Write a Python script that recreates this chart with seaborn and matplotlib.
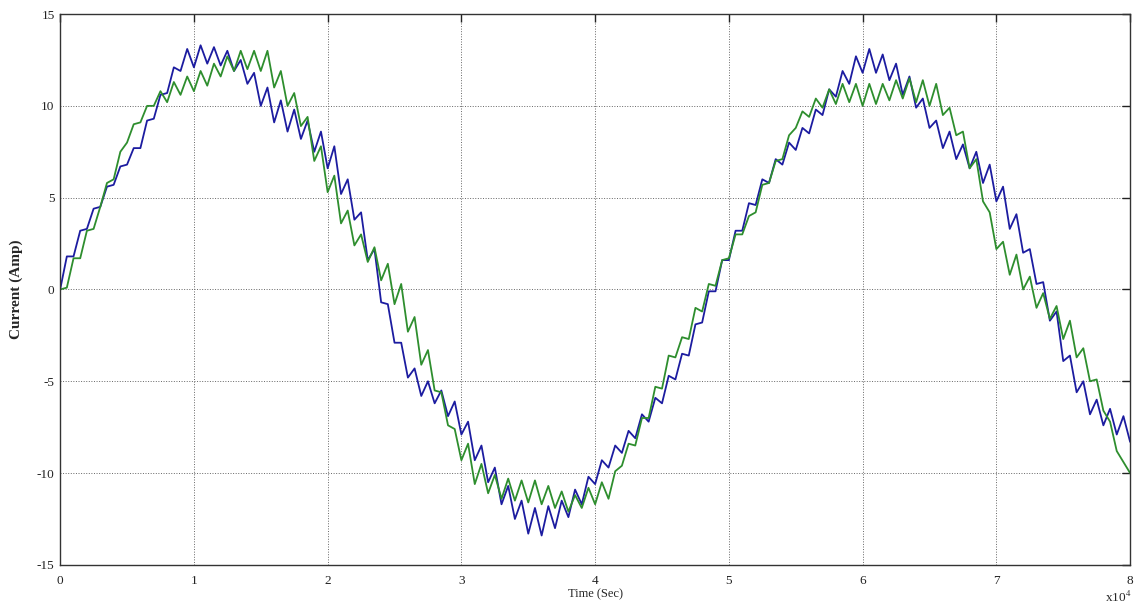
import numpy as np
import pandas as pd
import matplotlib
matplotlib.use("Agg")
import matplotlib.pyplot as plt
import seaborn as sns

# time axis in units of 1e4 s (sampling grid)
time_x1e4 = np.linspace(0, 8, 161)

blue_current = [
    0.0, 1.8, 1.8, 3.2, 3.3, 4.4, 4.5, 5.6, 5.7, 6.7,
    6.8, 7.7, 7.7, 9.2, 9.3, 10.6, 10.7, 12.1, 11.9, 13.1,
    12.1, 13.3, 12.3, 13.2, 12.2, 13.0, 11.9, 12.5, 11.2, 11.8,
    10.0, 11.0, 9.1, 10.3, 8.6, 9.8, 8.2, 9.2, 7.5, 8.6,
    6.6, 7.8, 5.2, 6.0, 3.8, 4.2, 1.6, 2.2, -0.7, -0.8,
    -2.9, -2.9, -4.8, -4.3, -5.8, -5.0, -6.2, -5.5, -6.9, -6.1,
    -7.9, -7.2, -9.3, -8.5, -10.5, -9.7, -11.7, -10.7, -12.5, -11.5,
    -13.3, -11.9, -13.4, -11.8, -13.0, -11.5, -12.4, -10.9, -11.7, -10.2,
    -10.6, -9.3, -9.7, -8.5, -8.9, -7.7, -8.1, -6.8, -7.2, -5.9,
    -6.2, -4.7, -4.9, -3.5, -3.6, -1.9, -1.8, -0.1, -0.1, 1.6,
    1.6, 3.2, 3.2, 4.7, 4.6, 6.0, 5.8, 7.1, 6.8, 8.0,
    7.6, 8.8, 8.5, 9.8, 9.5, 10.9, 10.5, 11.9, 11.2, 12.7,
    11.8, 13.1, 11.8, 12.8, 11.4, 12.3, 10.6, 11.6, 9.9, 10.4,
    8.8, 9.2, 7.7, 8.6, 7.1, 7.9, 6.6, 7.5, 5.8, 6.8,
    4.8, 5.6, 3.3, 4.1, 2.0, 2.2, 0.3, 0.4, -1.7, -1.2,
    -3.9, -3.6, -5.6, -5.0, -6.8, -6.0, -7.4, -6.5, -7.9, -6.9,
    -8.3,
]

green_current = [
    0.0, 0.1, 1.7, 1.7, 3.2, 3.3, 4.5, 5.8, 6.0, 7.5,
    8.0, 9.0, 9.1, 10.0, 10.0, 10.8, 10.2, 11.3, 10.6, 11.6,
    10.8, 11.9, 11.1, 12.3, 11.6, 12.7, 11.9, 13.0, 12.0, 13.0,
    11.9, 13.0, 11.0, 11.9, 10.0, 10.7, 8.9, 9.4, 7.0, 7.8,
    5.3, 6.2, 3.6, 4.3, 2.4, 3.0, 1.5, 2.3, 0.5, 1.4,
    -0.8, 0.3, -2.3, -1.5, -4.1, -3.3, -5.5, -5.6, -7.4, -7.6,
    -9.3, -8.4, -10.6, -9.5, -11.1, -10.1, -11.4, -10.3, -11.5, -10.4,
    -11.6, -10.4, -11.7, -10.7, -11.9, -11.0, -12.1, -11.2, -11.9, -10.8,
    -11.7, -10.5, -11.4, -9.9, -9.6, -8.4, -8.5, -7.0, -7.0, -5.3,
    -5.4, -3.6, -3.7, -2.6, -2.7, -1.0, -1.2, 0.3, 0.2, 1.6,
    1.7, 3.0, 3.0, 4.0, 4.2, 5.7, 5.8, 7.0, 7.1, 8.4,
    8.8, 9.7, 9.4, 10.4, 9.9, 10.9, 10.1, 11.2, 10.2, 11.2,
    10.0, 11.2, 10.1, 11.2, 10.3, 11.4, 10.4, 11.5, 10.2, 11.4,
    10.0, 11.2, 9.5, 9.9, 8.4, 8.6, 6.6, 7.1, 4.8, 4.2,
    2.2, 2.6, 0.8, 1.9, 0.0, 0.7, -1.0, -0.2, -1.6, -0.9,
    -2.7, -1.7, -3.7, -3.2, -5.0, -4.9, -6.6, -7.2, -8.8, -9.4,
    -10.0,
]

x_ticks = [0, 1, 2, 3, 4, 5, 6, 7, 8]
y_ticks = [-15, -10, -5, 0, 5, 10, 15]
series_names = ["blue", "green"]
series_colors = {"blue": "#1c1ca0", "green": "#2e8e2e"}

df = pd.concat([
    pd.DataFrame({"time": time_x1e4, "current": blue_current, "series": "blue"}),
    pd.DataFrame({"time": time_x1e4, "current": green_current, "series": "green"}),
])

sns.set_style("white")
plt.rcParams["font.family"] = ["Liberation Serif", "DejaVu Serif"]
plt.rcParams["mathtext.fontset"] = "stix"

fig = plt.figure(figsize=(11.35, 6.12), dpi=100)
ax = fig.add_axes([0.053, 0.077, 0.9427, 0.9])

sns.lineplot(data=df, x="time", y="current", hue="series", hue_order=series_names,
             palette=series_colors, estimator=None, sort=False, legend=False,
             linewidth=1.3, ax=ax)

ax.set_xlim(0, 8)
ax.set_ylim(-15, 15)
ax.set_xticks(x_ticks)
ax.set_yticks(y_ticks)
ax.set_xticklabels([str(t) for t in x_ticks], fontsize=9.5)
ax.set_yticklabels([str(t) for t in y_ticks], fontsize=9.5)
ax.tick_params(direction="in", top=True, right=True, length=6, width=1.0,
               colors="#222222")
ax.tick_params(axis="x", pad=7)
ax.tick_params(axis="y", pad=4)
ax.grid(True, linestyle=":", color="#666666", linewidth=0.7)
for s in ax.spines.values():
    s.set_color("#333333")
    s.set_linewidth(1.0)
    s.set_visible(True)

ax.set_xlabel("Time (Sec)", fontsize=9, labelpad=1)
ax.set_ylabel("Current (Amp)", fontsize=11, fontweight="bold", labelpad=10)
fig.text(0.985, 0.012, r"x10$^{4}$", fontsize=9.5, ha="center", va="bottom")

fig.savefig("out.png", dpi=100)
